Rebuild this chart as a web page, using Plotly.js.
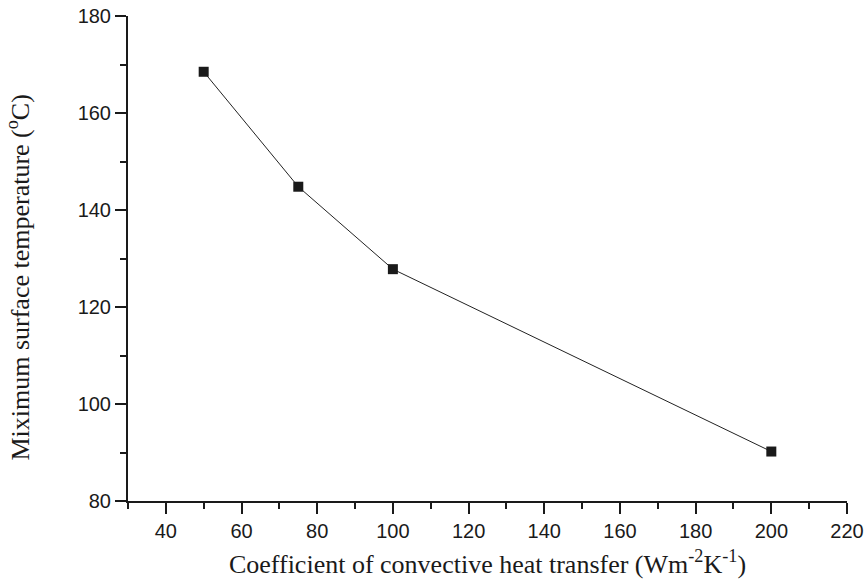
<!DOCTYPE html>
<html>
<head>
<meta charset="utf-8">
<script src="https://cdn.plot.ly/plotly-3.0.1.min.js"></script>
<style>
  html, body { margin: 0; padding: 0; background: #fff; }
  #chart { width: 867px; height: 585px; }
</style>
</head>
<body>
<div id="chart"></div>
<script>
// Convective heat transfer coefficient (W m^-2 K^-1)
const heatTransferCoeff = [50, 75, 100, 200];
// Maximum surface temperature (°C)
const maxSurfaceTemp = [168.5, 144.8, 127.8, 90.2];

const xTickVals = [40, 60, 80, 100, 120, 140, 160, 180, 200, 220];
const yTickVals = [80, 100, 120, 140, 160, 180];

const xTitle = 'Coefficient of convective heat transfer (Wm<sup>-2</sup>K<sup>-1</sup>)';
const yTitle = 'Miximum surface temperature (<sup>o</sup>C)';

const serifFont = { family: 'Liberation Serif, Times New Roman, serif', size: 26, color: '#1a1a1a' };

const trace = {
  x: heatTransferCoeff,
  y: maxSurfaceTemp,
  mode: 'lines+markers',
  type: 'scatter',
  line: { color: '#222', width: 1 },
  marker: { symbol: 'square', size: 10, color: '#1a1a1a' },
  cliponaxis: false,
  showlegend: false
};

const axisCommon = {
  showline: true,
  linecolor: '#1a1a1a',
  linewidth: 2,
  ticks: 'outside',
  ticklen: 11,
  tickwidth: 2,
  tickcolor: '#1a1a1a',
  showgrid: false,
  zeroline: false,
  tickfont: { family: 'Liberation Sans, Arial, sans-serif', size: 20, color: '#1a1a1a' },
  minor: { ticks: 'outside', ticklen: 6, tickwidth: 2, tickcolor: '#1a1a1a', dtick: 10, showgrid: false }
};

const layout = {
  width: 867,
  height: 585,
  margin: { l: 128, r: 20, t: 16, b: 84 },
  paper_bgcolor: '#fff',
  plot_bgcolor: '#fff',
  xaxis: Object.assign({}, axisCommon, {
    range: [30, 220],
    tickmode: 'array',
    tickvals: xTickVals,
    title: { text: xTitle, font: serifFont, standoff: 14 }
  }),
  yaxis: Object.assign({}, axisCommon, {
    range: [80, 180],
    tickmode: 'array',
    tickvals: yTickVals
  }),
  // rotated y-axis title, placed as an annotation so it can sit a bit below centre
  annotations: [{
    text: yTitle,
    font: serifFont,
    textangle: -90,
    xref: 'paper', yref: 'paper',
    x: -0.152, y: 0.46,
    xanchor: 'center', yanchor: 'middle',
    showarrow: false
  }]
};

Plotly.newPlot('chart', [trace], layout, { displayModeBar: false, staticPlot: true });
</script>
</body>
</html>
